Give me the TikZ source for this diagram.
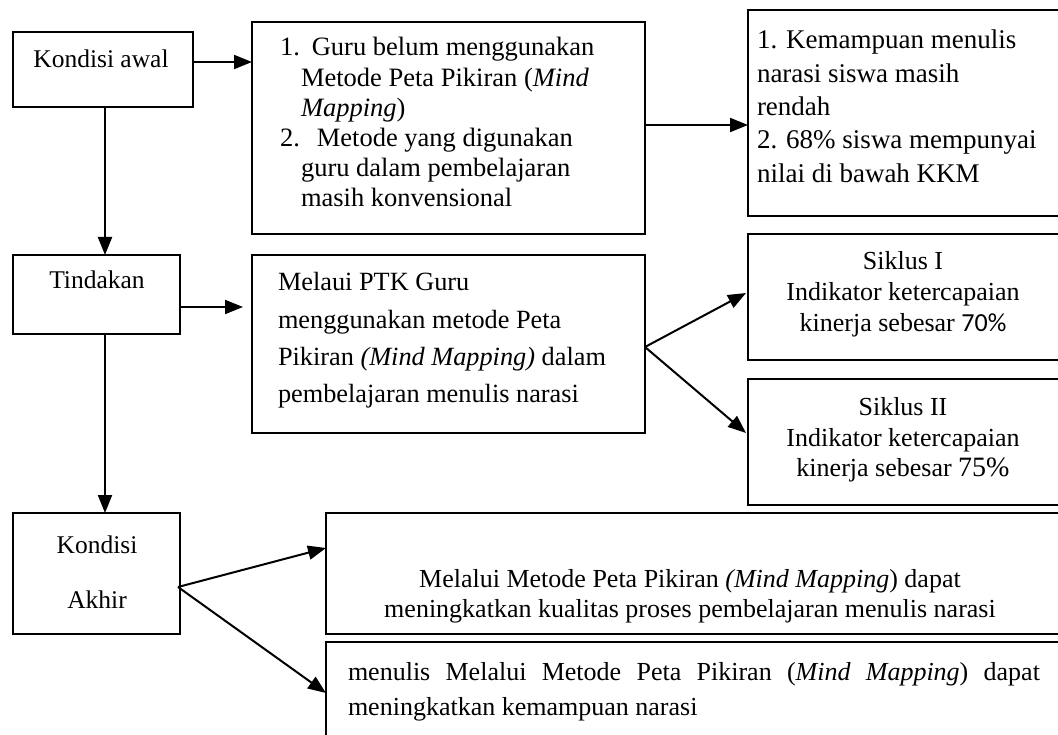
\documentclass[tikz,border=0pt]{standalone}
\usepackage{fontspec}
\setmainfont{Liberation Serif}
\newfontfamily\calib{Carlito}
\usetikzlibrary{arrows.meta,calc}
\newcommand\fs[2]{\fontsize{#1}{#2}\selectfont}
\begin{document}
\begin{tikzpicture}[x=1pt,y=-1pt,
  box/.style={draw, line width=1.7pt, anchor=north west, inner sep=0pt, outer sep=0pt},
  txt/.style={inner sep=0pt, outer sep=0pt, anchor=base west},
  ctxt/.style={inner sep=0pt, outer sep=0pt, anchor=base},
  arr/.style={line width=2pt, -{Triangle[length=18pt,width=14pt]}}]
\useasboundingbox (0,0) rectangle (1058,735);
\clip (0,0) rectangle (1058,735);
% boxes
\node[box, minimum width=180pt, minimum height=75pt] (awal) at (13,32) {};
\node[box, minimum width=393pt, minimum height=212pt] (b2) at (252,22) {};
\node[box, minimum width=315pt, minimum height=206pt] (b3) at (748,10) {};
\node[box, minimum width=167pt, minimum height=79pt] (tind) at (13,255) {};
\node[box, minimum width=393pt, minimum height=178pt] (b4) at (252,255) {};
\node[box, minimum width=315pt, minimum height=126pt] (s1) at (748,234) {};
\node[box, minimum width=315pt, minimum height=126pt] (s2) at (748,379) {};
\node[box, minimum width=167pt, minimum height=121pt] (akhir) at (13,513) {};
\node[box, minimum width=737pt, minimum height=121pt] (b7) at (326,513) {};
\node[box, minimum width=737pt, minimum height=110pt] (b8) at (326,642) {};
% texts
\node[ctxt] (awalt) at (101,68) {\fs{25.5}{30}Kondisi awal};
\node[txt] (b2t) at (280,56) {\parbox[t]{360pt}{\fs{26.5}{30.2}%
1.\hspace{12pt}Guru belum menggunakan\\
\hspace*{21pt}Metode Peta Pikiran (\textit{Mind}\\
\hspace*{21pt}\textit{Mapping})\\
2.\hspace{17pt}Metode yang digunakan\\
\hspace*{21pt}guru dalam pembelajaran\\
\hspace*{21pt}masih konvensional}};
\node[txt] (b3t) at (757,49) {\parbox[t]{300pt}{\fs{27}{33.3}%
1. Kemampuan menulis\\
narasi siswa masih\\
rendah\\
2. 68\% siswa mempunyai\\
nilai di bawah KKM}};
\node[ctxt] (tindt) at (97,289) {\fs{25.5}{30}Tindakan};
\node[txt] (b4t) at (278,291) {\parbox[t]{360pt}{\fs{26.3}{37.3}%
Melaui PTK Guru\\
menggunakan metode Peta\\
Pikiran \textit{(Mind Mapping)} dalam\\
pembelajaran menulis narasi}};
\node[ctxt] (s1t) at (903,270) {\parbox[t]{300pt}{\centering\fs{26}{31}%
Siklus I\\
Indikator ketercapaian\\
kinerja sebesar {\calib 70\%}}};
\node[ctxt] (s2t) at (903,415) {\parbox[t]{300pt}{\centering\fs{26}{31}%
Siklus II\\
Indikator ketercapaian\\
kinerja sebesar {\fs{28}{31}75\%}}};
\node[ctxt] (akhirt) at (97,553) {\parbox[t]{160pt}{\centering\fs{25.5}{55}%
Kondisi\\
Akhir}};
\node[ctxt] (b7t) at (690,587) {\parbox[t]{720pt}{\centering\fs{26}{30}%
Melalui Metode Peta Pikiran \textit{(Mind Mapping}) dapat\\
meningkatkan kualitas proses pembelajaran menulis narasi}};
\node[txt] (b8t) at (348,680) {\parbox[t]{692pt}{\fs{26}{35}%
\makebox[\linewidth][s]{menulis Melalui Metode Peta Pikiran (\textit{Mind Mapping}) dapat}\\
meningkatkan kemampuan narasi}};
% connectors
\draw[arr] ($(awal.north east)+(0,30)$) -- ($(b2.north west)+(0,40)$);
\draw[arr] ($(b2.north east)+(0,103)$) -- ($(b3.north west)+(0,115)$);
\draw[arr] (awal.south -| 105,0) -- (tind.north -| 105,0);
\draw[arr] ($(tind.north east)+(0,52)$) -- ($(b4.north west)+(-9,52)$);
\coordinate (fork1) at ($(b4.north east)+(0,92)$);
\draw[arr] (fork1) -- ($(s1.north west)+(-2,59)$);
\draw[arr] (fork1) -- ($(s2.north west)+(-2,54)$);
\draw[arr] (tind.south -| 105,0) -- (akhir.north -| 105,0);
\coordinate (fork2) at ($(akhir.north east)+(-2,74)$);
\draw[arr] (fork2) -- ($(b7.north west)+(0,35)$);
\draw[arr] (fork2) -- ($(b8.north west)+(0,51)$);
\end{tikzpicture}
\end{document}
